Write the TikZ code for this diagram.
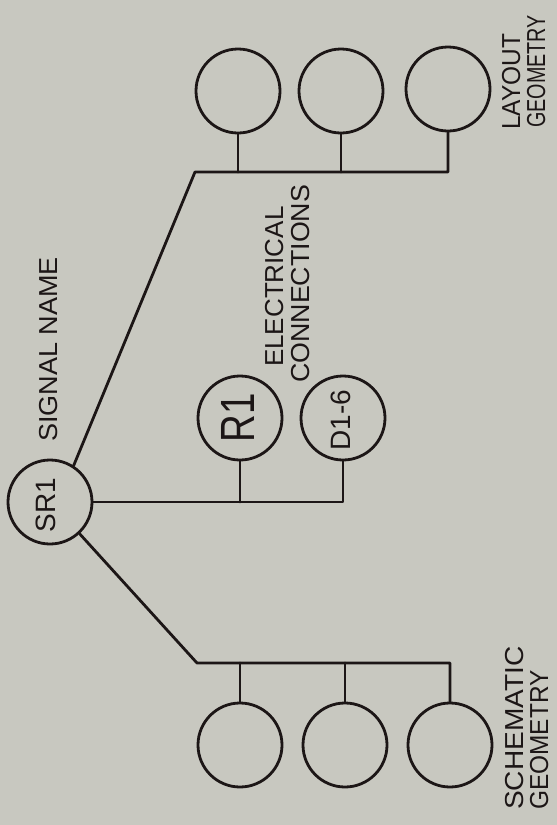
\documentclass[tikz,border=0pt]{standalone}
\usepackage{fontspec}
\usepackage{graphicx}
\setmainfont{Liberation Sans}
\definecolor{bg}{RGB}{200,200,192}
\definecolor{ink}{RGB}{28,22,22}
\begin{document}
\begin{tikzpicture}[x=1pt,y=-1pt,
  ring/.style={circle,draw=ink,line width=2.8pt,minimum size=84pt,inner sep=0pt},
  wire/.style={draw=ink,line width=2.8pt,line join=round,line cap=round},
  lbl/.style={rotate=90,inner sep=0pt,text=ink,font=\fontsize{26}{26}\selectfont,anchor=base west},
  intxt/.style={rotate=90,inner sep=0pt,text=ink}]
\fill[bg] (0,0) rectangle (557,825);
\useasboundingbox (0,0) rectangle (557,825);
% signal node
\node[ring] (sr1) at (50,502) {};
\node[intxt,font=\fontsize{28}{28}\selectfont] (sr1t) at (46,505) {SR1};
% electrical connections
\node[ring] (r1) at (240,418) {};
\node[intxt,font=\fontsize{48}{48}\selectfont] (r1t) at (238,418) {\scalebox{0.8}[1]{R1}};
\node[ring] (d16) at (343,418) {};
\node[intxt,font=\fontsize{28}{28}\selectfont] (d16t) at (341,420) {D1-6};
% layout geometry
\node[ring] (t1) at (238,91) {};
\node[ring] (t2) at (341,91) {};
\node[ring] (t3) at (448,89) {};
% schematic geometry
\node[ring] (b1) at (240,745) {};
\node[ring] (b2) at (345,745) {};
\node[ring] (b3) at (450,745) {};
% bus corners
\coordinate (tl) at (195,172);
\coordinate (bl) at (197,663);
\coordinate (mr) at (343,502);
% wires
\draw[wire] (sr1.57) -- (tl) -- (tl -| t3.south) -- (t3.south);
\draw[wire] (t1.south) -- (t1.south |- tl);
\draw[wire] (t2.south) -- (t2.south |- tl);
\draw[wire] (sr1.-47) -- (bl) -- (bl -| b3.north) -- (b3.north);
\draw[wire] (b1.north) -- (b1.north |- bl);
\draw[wire] (b2.north) -- (b2.north |- bl);
\draw[wire] (sr1.east) -- (mr) -- (d16.south);
\draw[wire] (r1.south) -- (r1.south |- mr);
% labels
\node[lbl] (sig) at (57,442) {\scalebox{1.04}[1]{SIGNAL NAME}};
\node[lbl] (ele) at (283,367) {ELECTRICAL};
\node[lbl] (con) at (309,383) {\scalebox{1.03}[1]{CONNECTIONS}};
\node[lbl] (lay) at (520,130) {\scalebox{0.94}[1]{LAYOUT}};
\node[lbl] (geo1) at (545,128) {\scalebox{0.76}[1]{GEOMETRY}};
\node[lbl] (sch) at (523,810) {\scalebox{1.08}[1]{SCHEMATIC}};
\node[lbl] (geo2) at (548,810) {\scalebox{0.94}[1]{GEOMETRY}};
\end{tikzpicture}
\end{document}
